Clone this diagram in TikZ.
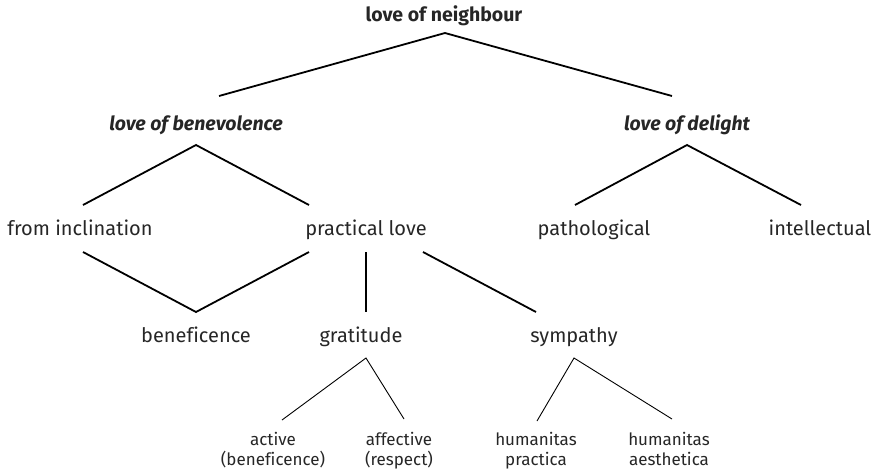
\documentclass[tikz,border=0pt]{standalone}
\usepackage{fontspec}
\setmainfont[Ligatures=NoCommon]{Fira Sans}
\begin{document}
\begin{tikzpicture}[x=1pt,y=-1pt,
  lbl/.style={inner sep=0pt,anchor=base,font=\fontsize{20}{24}\selectfont,text=black!85},
  top/.style={lbl,font=\fontsize{19.5}{24}\selectfont\bfseries},
  topi/.style={lbl,font=\fontsize{19.5}{24}\selectfont\bfseries\itshape},
  small/.style={inner sep=0pt,anchor=base,align=center,font=\fontsize{17}{20}\selectfont,text=black!85},
  thick line/.style={line width=1.8pt},
  thin line/.style={line width=0.9pt}]
\useasboundingbox (0,0) rectangle (879,472);
% nodes
\node[top]  (ln)  at (444,21)  {love of neighbour};
\node[topi] (lb)  at (196,130) {love of benevolence};
\node[topi] (ld)  at (687,130) {love of delight};
\node[lbl]  (fi)  at (80,235)  {from inclination};
\node[lbl]  (pl)  at (366,235) {practical love};
\node[lbl]  (pa)  at (594,235) {pathological};
\node[lbl]  (in)  at (820,235) {intellectual};
\node[lbl]  (be)  at (196,342) {beneficence};
\node[lbl]  (gr)  at (361,342) {gratitude};
\node[lbl]  (sy)  at (574,342) {sympathy};
\node[small] (ac) at (273,465) {active\\(beneficence)};
\node[small] (af) at (399,465) {affective\\(respect)};
\node[small] (hp) at (536,465) {humanitas\\practica};
\node[small] (ha) at (669,465) {humanitas\\aesthetica};
% connector ends
\coordinate (ln-s) at (445,33);
\coordinate (lb-n) at (219,96);
\coordinate (ld-n) at (672,96);
\coordinate (lb-s) at (196,145);
\coordinate (fi-n) at (83,205);
\coordinate (pl-n) at (309,205);
\coordinate (ld-s) at (687,145);
\coordinate (pa-n) at (575,205);
\coordinate (in-n) at (801,205);
\coordinate (fi-s) at (83,252);
\coordinate (be-n) at (196,312);
\coordinate (pl-sl) at (309,252);
\coordinate (pl-s) at (366,252);
\coordinate (gr-n) at (366,312);
\coordinate (pl-sr) at (423,252);
\coordinate (sy-n) at (536,312);
\coordinate (gr-s) at (366,358);
\coordinate (ac-n) at (282,420);
\coordinate (af-n) at (404,419);
\coordinate (sy-s) at (574,358);
\coordinate (hp-n) at (537,421);
\coordinate (ha-n) at (672,419);
% connectors
\draw[thick line] (lb-n) -- (ln-s) -- (ld-n);
\draw[thick line] (fi-n) -- (lb-s) -- (pl-n);
\draw[thick line] (pa-n) -- (ld-s) -- (in-n);
\draw[thick line] (fi-s) -- (be-n) -- (pl-sl);
\draw[thick line] (pl-s) -- (gr-n);
\draw[thick line] (pl-sr) -- (sy-n);
\draw[thin line] (ac-n) -- (gr-s) -- (af-n);
\draw[thin line] (hp-n) -- (sy-s) -- (ha-n);
\end{tikzpicture}
\end{document}
